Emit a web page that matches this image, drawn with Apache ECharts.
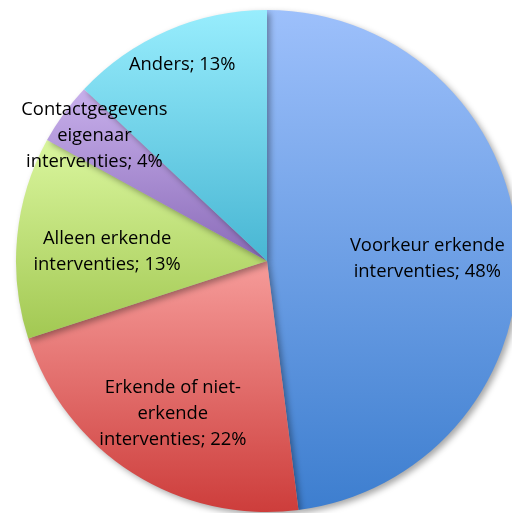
<!DOCTYPE html>
<html>
<head>
<meta charset="utf-8">
<script src="https://cdn.jsdelivr.net/npm/echarts@6/dist/echarts.min.js"></script>
<style>
  html, body { margin: 0; padding: 0; background: #fff; }
  #chart { width: 512px; height: 513px; }
</style>
</head>
<body>
<div id="chart"></div>
<script>
// Slice names (with line breaks for the labels) and their shares in percent
const categories = [
  'Voorkeur erkende\ninterventies',
  'Erkende of niet-\nerkende\ninterventies',
  'Alleen erkende\ninterventies',
  'Contactgegevens\neigenaar\ninterventies',
  'Anders'
];
const values = [48, 22, 13, 4, 13];

// Top / bottom colours of each slice's vertical gradient
const topColors = ['#9dc0fb', '#f69c9a', '#daf69e', '#c8b0ec', '#98edfd'];
const bottomColors = ['#3d7ecf', '#cd3d3b', '#a2c852', '#8a6bb8', '#48b6d3'];

// Label placement: fraction of the radius along the slice's mid-angle,
// plus a small vertical nudge in pixels
const labelRadius = [0.64, 0.70, 0.64, 0.85, 0.85];
const labelNudgeY = [8, 4, 6, 0, 0];

const CX = 267, CY = 261, R = 251;

const total = values.reduce((a, b) => a + b, 0);
const labelPos = [];
let acc = 0;
values.forEach((v, i) => {
  const mid = (acc + v / 2) / total * Math.PI * 2;
  acc += v;
  labelPos.push({
    x: CX + Math.sin(mid) * R * labelRadius[i],
    y: CY - Math.cos(mid) * R * labelRadius[i] + labelNudgeY[i]
  });
});

const chart = echarts.init(document.getElementById('chart'));
chart.setOption({
  animation: false,
  series: [{
    type: 'pie',
    center: [CX, CY],
    radius: [0, R],
    startAngle: 90,
    clockwise: true,
    label: {
      show: true,
      position: 'inside',
      formatter: p => p.name + '; ' + p.value + '%',
      fontFamily: '"Open Sans", "Noto Sans", sans-serif',
      fontSize: 18.4,
      lineHeight: 26,
      color: '#000',
      align: 'center',
      verticalAlign: 'middle'
    },
    labelLine: { show: false },
    labelLayout: p => ({ x: labelPos[p.dataIndex].x, y: labelPos[p.dataIndex].y }),
    emphasis: { disabled: true },
    itemStyle: {
      borderWidth: 0,
      shadowBlur: 6,
      shadowOffsetX: 3,
      shadowOffsetY: 3,
      shadowColor: 'rgba(0,0,0,0.35)'
    },
    data: categories.map((name, i) => ({
      name: name,
      value: values[i],
      itemStyle: {
        color: new echarts.graphic.LinearGradient(0, 0, 0, 1, [
          { offset: 0, color: topColors[i] },
          { offset: 1, color: bottomColors[i] }
        ])
      }
    }))
  }]
});
</script>
</body>
</html>
